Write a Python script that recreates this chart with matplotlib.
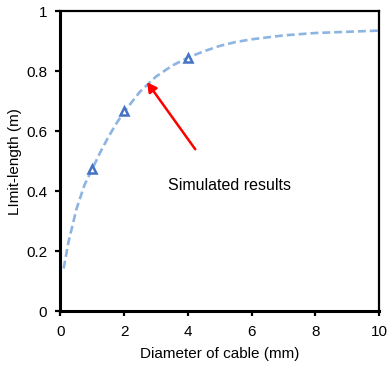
import matplotlib
matplotlib.use("Agg")
import matplotlib.pyplot as plt

plt.rcParams['font.family'] = ['Liberation Sans', 'DejaVu Sans']

# Fitted limit-length curve versus cable diameter
curve_x = [0.1, 0.25, 0.5, 0.75, 1.0, 1.25, 1.5, 1.75, 2.0, 2.5, 3.0, 3.5, 4.0,
           4.5, 5.0, 5.5, 6.0, 7.0, 8.0, 9.0, 10.0]
curve_y = [0.143, 0.23, 0.34, 0.42, 0.475, 0.53, 0.58, 0.625, 0.665, 0.732, 0.782,
           0.818, 0.845, 0.866, 0.884, 0.897, 0.906, 0.919, 0.927, 0.931, 0.935]

# Simulated points
sim_x = [1, 2, 4]
sim_y = [0.473, 0.667, 0.845]

x_ticks = [0, 2, 4, 6, 8, 10]
y_ticks = [0, 0.2, 0.4, 0.6, 0.8, 1]

fig = plt.figure(figsize=(3.9, 3.69), dpi=100)
ax = fig.add_axes([0.155, 0.156, 0.817, 0.814])

ax.plot(curve_x, curve_y, color='#8DB4E2', lw=1.9, dashes=(3.0, 1.5),
        solid_capstyle='butt', dash_capstyle='butt', zorder=2)
ax.plot(sim_x, sim_y, linestyle='none', marker='^', markersize=6,
        markerfacecolor='white', markeredgecolor='#4472C4', markeredgewidth=1.8,
        zorder=3)

ax.annotate('', xy=(2.72, 0.763), xytext=(4.23, 0.54),
            arrowprops=dict(arrowstyle='-|>,head_length=0.55,head_width=0.3',
                            color='#FF0000', lw=1.8, shrinkA=0, shrinkB=0),
            zorder=4)
ax.text(3.37, 0.418, 'Simulated results', fontsize=11.5, ha='left', va='center')

ax.set_xlim(0, 10)
ax.set_ylim(0, 1)
ax.set_xticks(x_ticks)
ax.set_xticklabels([str(v) for v in x_ticks])
ax.set_yticks(y_ticks)
ax.set_yticklabels(['0', '0.2', '0.4', '0.6', '0.8', '1'])

ax.tick_params(direction='out', length=3.5, width=1.6, labelsize=11, pad=6,
               colors='black')

for side in ['left', 'bottom']:
    ax.spines[side].set_linewidth(2.2)
for side in ['top', 'right']:
    ax.spines[side].set_linewidth(1.6)

ax.set_xlabel('Diameter of cable (mm)', fontsize=11, labelpad=6)
ax.set_ylabel('LImit-length (m)', fontsize=11, labelpad=3)

fig.savefig('out.png', dpi=100)
